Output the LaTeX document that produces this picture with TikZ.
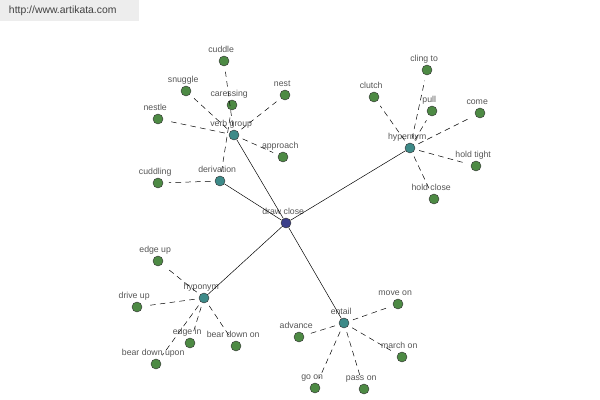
\documentclass[tikz,border=0pt]{standalone}
\usepackage{fontspec}
\setmainfont{Liberation Sans}
\definecolor{centrecolor}{HTML}{3B3F8A}
\definecolor{relcolor}{HTML}{3D8A88}
\definecolor{leafcolor}{HTML}{4D8A44}
\definecolor{labelcolor}{HTML}{555555}
\definecolor{markcolor}{HTML}{EDEDED}
\tikzset{
  wordnode/.style={circle, draw=black!80, line width=0.3pt, minimum size=0.25cm, inner sep=0pt},
  centre/.style={wordnode, fill=centrecolor},
  rel/.style={wordnode, fill=relcolor},
  leaf/.style={wordnode, fill=leafcolor},
  lbl/.style={text=labelcolor, font=\fontsize{6.2}{7}\selectfont, inner sep=0pt, anchor=base, xshift=-2pt},
  solidlink/.style={black, line width=0.35pt},
  dashlink/.style={black, line width=0.35pt, dash pattern=on 4pt off 3pt, shorten <=3pt, shorten >=4pt}
}
\begin{document}
\begin{tikzpicture}[x=0.025cm, y=-0.025cm, label distance=2pt]
            \useasboundingbox (0,0) rectangle (600,400);

            % Site mark
            \node[fill=markcolor, minimum width=139*0.025cm, minimum height=21*0.025cm, anchor=north west, inner sep=0pt] (markbox) at (0,0) {};
            \node[text=black!75, font=\fontsize{7.4}{8}\selectfont, anchor=west] (site) at (4,11) {http://www.artikata.com};

            % Centre and relation nodes
            \node[centre, label={[lbl]above:draw close}] (dc) at (286,223) {};
            \node[rel, label={[lbl]above:verb group}] (vg) at (234,135) {};
            \node[rel, label={[lbl]above:derivation}] (der) at (220,181) {};
            \node[rel, label={[lbl]above:hypernym}] (hyper) at (410,148) {};
            \node[rel, label={[lbl]above:hyponym}] (hypo) at (204,298) {};
            \node[rel, label={[lbl]above:entail}] (ent) at (344,323) {};

            % Verb group
            \node[leaf, label={[lbl]above:cuddle}] (cuddle) at (224,61) {};
            \node[leaf, label={[lbl]above:snuggle}] (snuggle) at (186,91) {};
            \node[leaf, label={[lbl]above:caressing}] (caressing) at (232,105) {};
            \node[leaf, label={[lbl]above:nest}] (nest) at (285,95) {};
            \node[leaf, label={[lbl]above:nestle}] (nestle) at (158,119) {};
            \node[leaf, label={[lbl]above:approach}] (approach) at (283,157) {};

            % Derivation
            \node[leaf, label={[lbl]above:cuddling}] (cuddling) at (158,183) {};

            % Hypernym
            \node[leaf, label={[lbl]above:cling to}] (clingto) at (427,70) {};
            \node[leaf, label={[lbl]above:clutch}] (clutch) at (374,97) {};
            \node[leaf, label={[lbl]above:pull}] (pull) at (432,111) {};
            \node[leaf, label={[lbl]above:come}] (come) at (480,113) {};
            \node[leaf, label={[lbl]above:hold tight}] (holdtight) at (476,166) {};
            \node[leaf, label={[lbl]above:hold close}] (holdclose) at (434,199) {};

            % Hyponym
            \node[leaf, label={[lbl]above:edge up}] (edgeup) at (158,261) {};
            \node[leaf, label={[lbl]above:drive up}] (driveup) at (137,307) {};
            \node[leaf, label={[lbl]above:edge in}] (edgein) at (190,343) {};
            \node[leaf, label={[lbl]above:bear down on}] (beardownon) at (236,346) {};
            \node[leaf, label={[lbl]above:bear down upon}] (beardownupon) at (156,364) {};

            % Entail
            \node[leaf, label={[lbl]above:move on}] (moveon) at (398,304) {};
            \node[leaf, label={[lbl]above:advance}] (advance) at (299,337) {};
            \node[leaf, label={[lbl]above:march on}] (marchon) at (402,357) {};
            \node[leaf, label={[lbl]above:go on}] (goon) at (315,388) {};
            \node[leaf, label={[lbl]above:pass on}] (passon) at (364,389) {};

            % Links
            \foreach \r in {vg,der,hyper,hypo,ent}
                \draw[solidlink] (dc) -- (\r);
            \foreach \w in {cuddle,snuggle,nest,nestle,approach}
                \draw[dashlink] (vg) -- (\w);
            \foreach \w in {cuddling,caressing}
                \draw[dashlink] (der) -- (\w);
            \foreach \w in {clingto,clutch,pull,come,holdtight,holdclose}
                \draw[dashlink] (hyper) -- (\w);
            \foreach \w in {edgeup,driveup,edgein,beardownon,beardownupon}
                \draw[dashlink] (hypo) -- (\w);
            \foreach \w in {moveon,advance,marchon,goon,passon}
                \draw[dashlink] (ent) -- (\w);
        \end{tikzpicture}
\end{document}
